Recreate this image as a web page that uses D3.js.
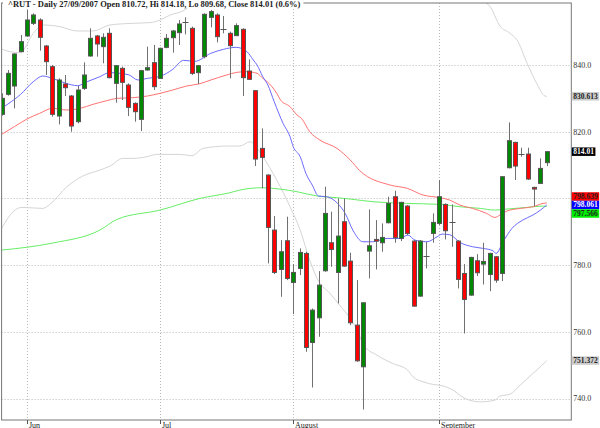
<!DOCTYPE html>
<html><head><meta charset="utf-8">
<script src="https://cdn.jsdelivr.net/npm/d3@7"></script>
<style>html,body{margin:0;padding:0;background:#fff;}svg{display:block;}</style>
</head><body>
<svg id="c" width="600" height="428"></svg>
<script>
// ---- data ----
const dates = [
"2007-05-25","2007-05-29","2007-05-30","2007-05-31",
"2007-06-01","2007-06-04","2007-06-05","2007-06-06","2007-06-07","2007-06-08","2007-06-11","2007-06-12","2007-06-13","2007-06-14","2007-06-15","2007-06-18","2007-06-19","2007-06-20","2007-06-21","2007-06-22","2007-06-25","2007-06-26","2007-06-27","2007-06-28","2007-06-29",
"2007-07-02","2007-07-03","2007-07-05","2007-07-06","2007-07-09","2007-07-10","2007-07-11","2007-07-12","2007-07-13","2007-07-16","2007-07-17","2007-07-18","2007-07-19","2007-07-20","2007-07-23","2007-07-24","2007-07-25","2007-07-26","2007-07-27","2007-07-30","2007-07-31",
"2007-08-01","2007-08-02","2007-08-03","2007-08-06","2007-08-07","2007-08-08","2007-08-09","2007-08-10","2007-08-13","2007-08-14","2007-08-15","2007-08-16","2007-08-17","2007-08-20","2007-08-21","2007-08-22","2007-08-23","2007-08-24","2007-08-27","2007-08-28","2007-08-29","2007-08-30","2007-08-31",
"2007-09-04","2007-09-05","2007-09-06","2007-09-07","2007-09-10","2007-09-11","2007-09-12","2007-09-13","2007-09-14","2007-09-17","2007-09-18","2007-09-19","2007-09-20","2007-09-21","2007-09-24","2007-09-25","2007-09-26","2007-09-27"];

const open  = [825.2,831.2,833.7,844.0,848.7,852.5,853.5,845.7,839.5,824.7,834.3,830.7,823.0,833.0,842.7,848.7,845.5,849.5,834.5,839.0,834.0,828.5,823.7,838.5,840.7,836.0,845.3,848.2,849.7,853.0,851.0,837.7,842.5,854.3,855.0,851.0,849.5,848.8,850.7,838.2,832.3,815.0,807.0,790.5,778.7,787.3,774.8,779.0,783.5,756.8,764.2,778.3,786.7,777.8,793.0,781.2,762.0,749.5,784.2,787.7,786.7,792.7,800.5,788.0,797.7,787.2,770.7,783.0,789.5,792.5,798.2,792.5,787.2,777.5,771.0,781.3,780.3,777.2,782.5,777.5,809.2,816.8,813.3,813.3,803.3,804.5,810.72];
const high  = [831.5,838.5,843.5,849.0,856.5,855.5,854.0,846.0,840.0,836.0,837.0,831.0,833.7,840.8,851.0,849.0,849.5,851.0,840.0,839.5,834.5,828.8,838.5,845.5,846.0,845.2,849.3,850.5,853.5,854.3,851.5,840.0,855.5,856.5,855.5,854.7,850.0,852.5,851.0,841.7,832.5,821.0,807.2,794.7,787.5,794.5,780.3,785.0,784.0,767.0,778.2,803.5,796.0,800.0,800.0,783.7,775.5,768.8,796.7,793.5,792.5,800.5,802.3,799.0,798.0,787.5,787.5,787.0,795.5,805.5,798.5,798.2,787.5,780.3,782.5,783.3,786.7,783.7,782.7,806.7,822.8,817.0,815.2,815.2,803.5,812.0,814.18];
const low   = [824.8,830.8,827.0,843.8,848.5,852.0,844.3,837.0,824.5,822.2,830.7,820.0,822.5,832.5,842.5,842.5,840.5,836.0,828.7,829.5,824.7,823.0,820.2,838.3,832.5,835.8,845.0,843.7,846.0,849.2,837.0,834.3,842.0,851.3,846.8,849.5,836.0,848.8,830.7,835.5,809.7,803.0,780.5,777.3,770.5,775.5,765.3,777.0,754.0,743.3,758.5,778.0,779.5,768.5,779.5,762.0,751.0,736.7,776.0,778.7,784.0,792.5,786.7,787.2,789.0,767.5,770.5,779.0,786.7,792.0,787.7,785.5,773.0,759.5,770.8,776.7,774.2,772.2,774.7,775.2,809.0,805.5,812.5,805.5,797.7,804.3,809.68];
const close = [830.0,837.5,843.3,847.0,853.5,855.0,848.3,841.0,825.2,835.5,833.2,821.7,832.5,837.0,848.0,846.3,848.3,836.2,839.8,834.8,827.3,826.0,838.3,839.2,833.5,845.0,848.0,850.2,852.3,853.0,837.5,839.8,855.2,856.0,848.5,850.7,845.8,851.8,836.2,835.7,811.8,812.3,791.3,777.8,784.0,776.0,777.8,783.8,755.3,766.5,774.0,795.5,784.7,788.7,779.7,762.7,751.3,768.7,785.8,787.2,788.3,798.5,788.2,798.8,789.5,767.7,787.2,782.8,792.8,800.5,790.3,792.9,775.7,769.7,782.3,777.7,781.1,783.5,775.5,806.5,817.3,809.7,813.3,805.8,802.8,809.0,814.01];

// moving averages / bands: [day index, value]
const maBlue = [[0,827],[1,828.3],[3,831.2],[5,835],[6.5,836.7],[8,836],[10,834.6],[12,833.8],[13.5,835],[15.5,836.5],[17,837.7],[20,837.1],[21.5,835.5],[23,836],[25,836.6],[27,838.7],[28.7,841.4],[30.5,841.1],[33,843.5],[35,844.7],[37,845.3],[38.7,844],[39.7,841.5],[40.3,840],[41.2,836.5],[42,834],[43,829],[44.4,822.5],[45.5,818.5],[46,815.5],[47.1,812.5],[48,807.5],[49,804],[50,800.7],[51.3,800.5],[53,798.5],[54.2,795.5],[55.4,790.5],[57,787],[58.6,787],[60.8,788],[62.8,788],[64.1,789],[65.2,787.5],[67.1,787],[68.7,788.5],[69.5,789.3],[70.7,789.1],[72.3,786.8],[74.3,785.5],[76,785],[77.5,784.3],[78,783.5],[79.1,787],[80.5,791],[82.2,793.5],[83.8,795],[85,796.5],[86,798.061]];
const maRed = [[0,819.2],[2,821.5],[4,823.8],[6,825.5],[8,827],[10.3,826.5],[12.4,827],[14.4,828.2],[16.6,829.3],[18.2,830],[20.7,830.2],[23,830.7],[25,831.5],[27,832.5],[29.2,833.7],[31.3,834.4],[33,835.5],[35.5,837],[37.1,837.8],[38.7,838],[40.3,837.5],[41.2,836],[41.9,835],[43.4,831.5],[44,829.5],[45.5,827.5],[46.6,825],[47.3,824],[48.6,820],[50.2,817.5],[52.9,815],[55,811.5],[56.5,808.3],[61.3,804],[64,803],[66.5,801],[69.2,800.2],[70.7,799.5],[72.3,798],[74.3,797],[76.5,795.5],[77.8,794.3],[78.6,795],[79.7,796.2],[81.8,797],[83.8,797.5],[85.4,798.5],[86,798.639]];
const maGreen = [[0,784.5],[8,786.6],[15.5,790.5],[18.2,793.7],[25,796.5],[31.3,800],[36,801.7],[37.6,802.5],[39.2,803],[41.2,803.2],[43.9,802.8],[46.6,802],[49.8,800.7],[53,800.2],[55,799.8],[58.6,799],[63.9,798.5],[69.2,798.2],[72.3,797.5],[75.5,797],[77.8,796.5],[79.7,796.8],[82.9,797.3],[85.4,797.7],[86,797.566]];
const bandUpper = [[-0.3,845],[1.3,844],[2.9,843.7],[5,849.5],[6.5,852],[9.2,851.5],[11.9,850.2],[14.4,850.2],[17.1,852],[20.7,852.5],[23.4,852.7],[25,853.5],[26.6,855],[28.6,856.2],[30.5,858.8],[33,860.5],[40,862],[48,864],[56,866],[64,865],[70,863],[75.9,859],[77,857.7],[78.6,851.7],[80.2,849.5],[81.3,847.5],[82.9,840.5],[84.4,834.5],[85.7,830.7],[86,830.613]];
const bandLower = [[-0.3,790],[0.8,793.5],[1.8,796],[3.2,797.3],[6.5,797],[7.6,798.2],[10.3,803.5],[12.8,806.7],[15.5,808.5],[17.1,809.7],[19.1,812],[20.7,812],[22.9,812.5],[24.5,813.2],[28.1,813.2],[30,812.8],[31.8,815],[35.6,815.7],[37.6,815.7],[39.2,817],[41.2,812.5],[43.4,805.5],[45.5,797.5],[47.1,790.5],[48.6,781.5],[49.9,775.5],[51.8,771.5],[53.4,767.8],[55,764],[56.1,760.5],[57.1,756],[59.2,753],[61.7,750.5],[64,748.6],[64.9,746.5],[66.5,745],[68.1,744.2],[69.6,743.8],[71.2,742.5],[73.1,740],[75.5,739],[77.8,739.5],[78.6,740.7],[80.2,741.3],[81.8,744],[83.8,747.5],[85.7,750.8],[86,751.372]];

const yTicks = [740,760,780,800,820,840];
const monthLabels = ["Jun","Jul","August","September"];
const title = "^RUT - Daily 27/09/2007 Open 810.72, Hi 814.18, Lo 809.68, Close 814.01 (0.6%)";
const lastLabels = [
  {value: 830.613, text: "830.613", bg: "#cccccc", fg: "#222"},
  {value: 814.01,  text: "814.01",  bg: "#000000", fg: "#fff"},
  {value: 798.639, text: "798.639", bg: "#ff0000", fg: "#222", slot: 196.5},
  {value: 798.061, text: "798.061", bg: "#0000ff", fg: "#fff", slot: 205},
  {value: 797.566, text: "797.566", bg: "#00ee00", fg: "#222", slot: 213.5},
  {value: 751.372, text: "751.372", bg: "#cccccc", fg: "#222"}
];

// ---- layout ----
const L = 1.6, R = 571.3, T = 3, B = 420;
const svg = d3.select("#c");
const x = d3.scaleLinear().domain([0, 86]).range([1.6, 546.8]);
const y = d3.scaleLinear().domain([740, 840]).range([398.5, 65]);
const font = "'Liberation Serif','DejaVu Serif',serif";

svg.append("defs").append("clipPath").attr("id","plot")
  .append("rect").attr("x",L).attr("y",T).attr("width",R-L).attr("height",B-T);

// month starts
const monthIdx = [];
dates.forEach((d,i)=>{ if(i>0 && d.slice(5,7)!==dates[i-1].slice(5,7)) monthIdx.push(i); });

// grid
const grid = svg.append("g").attr("stroke","#b8b8b8").attr("stroke-width",1).attr("stroke-dasharray","1,2");
grid.selectAll("line.h").data(yTicks).join("line")
  .attr("x1",L).attr("x2",R).attr("y1",d=>Math.round(y(d))+0.5).attr("y2",d=>Math.round(y(d))+0.5);
grid.selectAll("line.v").data(monthIdx).join("line")
  .attr("y1",T).attr("y2",B).attr("x1",d=>Math.round(x(d))+0.5).attr("x2",d=>Math.round(x(d))+0.5);

const plot = svg.append("g").attr("clip-path","url(#plot)");
const line = d3.line().x(d=>x(d[0])).y(d=>y(d[1])).curve(d3.curveMonotoneX);
[[bandUpper,"#d4d4d4"],[bandLower,"#d4d4d4"],[maGreen,"#66ee66"],[maRed,"#ff7272"],[maBlue,"#6a6aff"]].forEach(([data,col])=>{
  plot.append("path").datum(data).attr("d",line).attr("fill","none").attr("stroke",col).attr("stroke-width",1);
});

// candles
const idx = d3.range(dates.length);
const cg = plot.append("g");
cg.selectAll("line.w").data(idx).join("line")
  .attr("x1",i=>Math.round(x(i))+0.5).attr("x2",i=>Math.round(x(i))+0.5)
  .attr("y1",i=>y(high[i])).attr("y2",i=>y(low[i]))
  .attr("stroke","#707070").attr("stroke-width",1);
const bw = 4;
cg.selectAll("rect.b").data(idx.filter(i=>Math.abs(close[i]-open[i])>=0.45)).join("rect")
  .attr("x",i=>Math.round(x(i))-2+0.5).attr("width",bw)
  .attr("y",i=>y(Math.max(open[i],close[i]))).attr("height",i=>Math.abs(y(open[i])-y(close[i])))
  .attr("fill",i=>close[i]>=open[i]?"#008800":"#ff0000")
  .attr("stroke","#555").attr("stroke-width",1);
cg.selectAll("line.d").data(idx.filter(i=>Math.abs(close[i]-open[i])<0.45)).join("line")
  .attr("x1",i=>Math.round(x(i))-2.5).attr("x2",i=>Math.round(x(i))+3.5)
  .attr("y1",i=>Math.round(y(close[i]))+0.5).attr("y2",i=>Math.round(y(close[i]))+0.5)
  .attr("stroke","#555").attr("stroke-width",1);

// frame
svg.append("rect").attr("x",L).attr("y",T).attr("width",R-L).attr("height",B-T)
  .attr("fill","none").attr("stroke","#777").attr("stroke-width",1);

// label slots (value labels cover the tick labels they sit on, as in the reference)
const slots = lastLabels.map(l => l.slot!==undefined ? l.slot : y(l.value));

// right axis labels
svg.append("g").selectAll("text").data(yTicks.filter(v => slots.every(s => Math.abs(s - y(v)) > 7))).join("text")
  .attr("x",R+2).attr("y",d=>y(d)).attr("dy","0.35em")
  .attr("font-family",font).attr("font-size",8).attr("fill","#333")
  .text(d=>d3.format(".1f")(d));

// last value labels
const lg = svg.append("g");
lastLabels.forEach((l,k)=>{
  const cy = slots[k];
  const r = lg.append("rect").attr("x",R+0.5).attr("y",cy-4.25).attr("height",8.5).attr("fill",l.bg);
  const t = lg.append("text").attr("x",R+2).attr("y",cy).attr("dy","0.33em")
    .attr("font-family",font).attr("font-size",7.5).attr("font-weight","bold").attr("fill",l.fg).text(l.text);
  r.attr("width", t.node().getComputedTextLength()+3);
});

// x axis ticks and labels
const xa = svg.append("g");
xa.selectAll("line").data(monthIdx).join("line")
  .attr("x1",d=>Math.round(x(d))+0.5).attr("x2",d=>Math.round(x(d))+0.5).attr("y1",B).attr("y2",B+4)
  .attr("stroke","#555");
xa.selectAll("text").data(monthIdx).join("text")
  .attr("x",d=>Math.round(x(d))+2).attr("y",B+7.5)
  .attr("font-family",font).attr("font-size",8).attr("fill","#222")
  .text((d,i)=>monthLabels[i]);

// title
const tbg = svg.append("rect").attr("x",3).attr("y",0).attr("height",8).attr("fill","#fff");
const tt = svg.append("text").attr("x",8).attr("y",7).attr("font-family",font).attr("font-size",8.5)
  .attr("font-weight","bold").attr("fill","#222").text(title);
tbg.attr("width", tt.node().getComputedTextLength()+8);
</script>
</body></html>
